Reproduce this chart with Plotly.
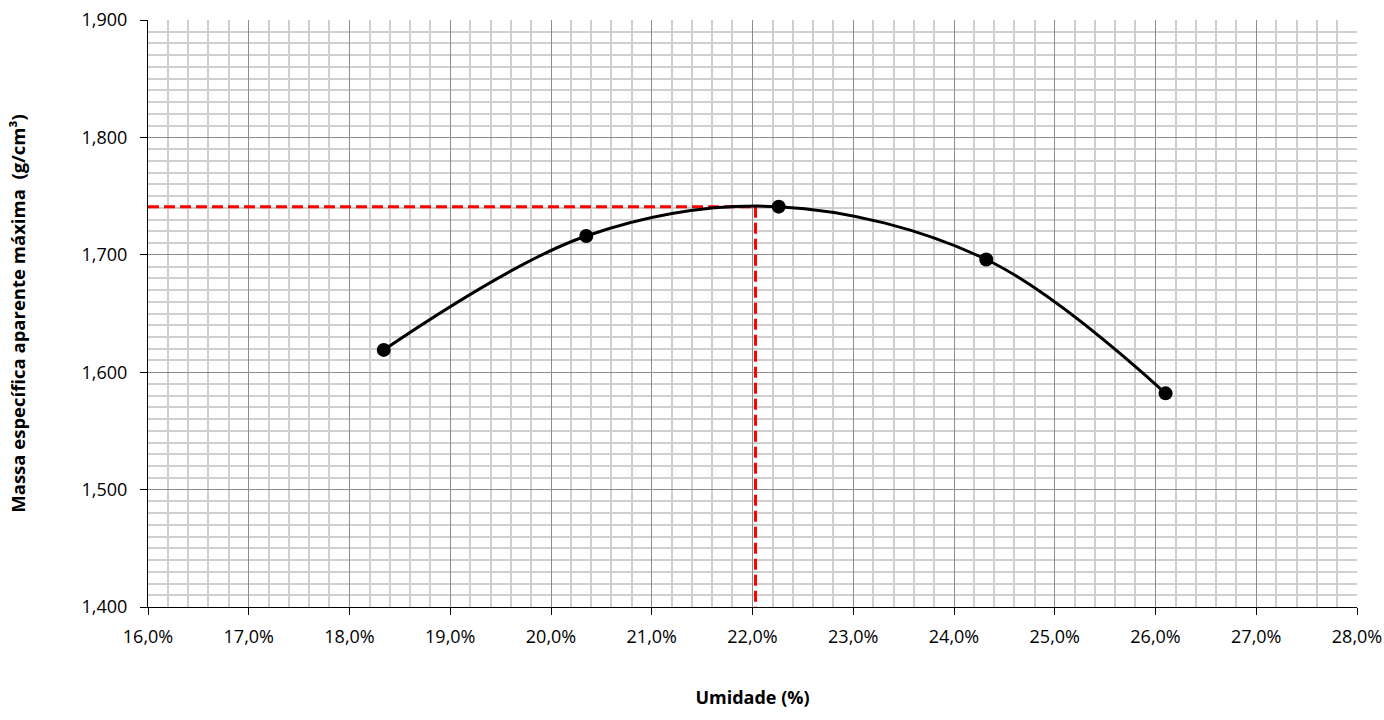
import plotly.graph_objects as go

umidade = [0.1834, 0.2035, 0.2226, 0.2432, 0.2610]
massa = [1.619, 1.716, 1.741, 1.696, 1.582]
umidade_otima = 0.2203
massa_maxima = 1.741
x_range = [0.16, 0.28]
y_range = [1.4, 1.9]

fig = go.Figure()
fig.add_trace(go.Scatter(x=[x_range[0], umidade_otima], y=[massa_maxima, massa_maxima],
                         mode="lines", line=dict(color="#ff0000", width=3, dash="11px,5px"),
                         hoverinfo="skip", showlegend=False))
fig.add_trace(go.Scatter(x=[umidade_otima, umidade_otima], y=[massa_maxima, y_range[0]],
                         mode="lines", line=dict(color="#ff0000", width=3, dash="11px,5px"),
                         hoverinfo="skip", showlegend=False))
fig.add_trace(go.Scatter(x=umidade, y=massa, mode="lines+markers",
                         line=dict(color="black", width=3, shape="spline", smoothing=1.0),
                         marker=dict(color="black", size=14), showlegend=False))

font_family = "Open Sans, Liberation Sans, sans-serif"
fig.update_layout(
    width=1384, height=720,
    paper_bgcolor="white", plot_bgcolor="white",
    margin=dict(l=148, r=27, t=20, b=113),
    separators=",.",
    font=dict(family=font_family, size=18, color="black"),
    showlegend=False,
)
fig.update_xaxes(
    range=x_range, dtick=0.01, tick0=0.16, tickformat=".1%",
    showgrid=True, gridcolor="#8c8c8c", gridwidth=1,
    minor=dict(dtick=0.002, showgrid=True, gridcolor="#cfcfcf", gridwidth=2),
    showline=True, linecolor="black", linewidth=1, mirror=False,
    ticks="outside", ticklen=7, tickcolor="black", ticklabelstandoff=6,
    ticklabeloverflow="allow",
    zeroline=False, automargin=False,
    title=dict(text="<b>Umidade (%)</b>", standoff=44, font=dict(size=18)),
)
fig.update_yaxes(
    range=y_range, dtick=0.1, tick0=1.4, tickformat=".3f",
    showgrid=True, gridcolor="#8c8c8c", gridwidth=1,
    minor=dict(dtick=0.01, showgrid=True, gridcolor="#cfcfcf", gridwidth=2),
    showline=True, linecolor="black", linewidth=1,
    ticks="outside", ticklen=7, tickcolor="black", ticklabelstandoff=9,
    ticklabeloverflow="allow",
    zeroline=False, automargin=False,
    title=dict(text="<b>Massa específica aparente máxima  (g/cm³)</b>", standoff=51, font=dict(size=18.5)),
)
fig.write_html("out.html", config={"displayModeBar": False},
               post_script="document.body.style.margin='0';document.body.style.overflow='hidden';")
